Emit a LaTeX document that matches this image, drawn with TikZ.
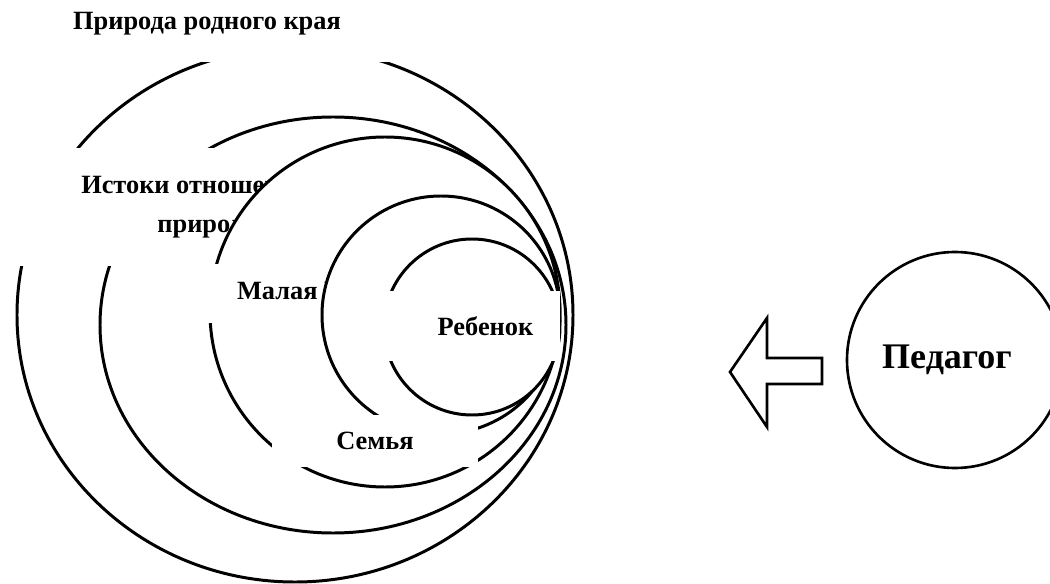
\documentclass[tikz,border=0pt]{standalone}
\usepackage{fontspec}
\setmainfont{Liberation Serif}
\usetikzlibrary{shapes.geometric}

\begin{document}
\begin{tikzpicture}[x=0.2mm, y=-0.2mm, font=\bfseries\fontsize{15}{22}\selectfont]
    \tikzstyle{ring} = [draw, line width=1.7pt, fill=white, inner sep=0pt]
    \tikzstyle{lbl} = [fill=white, inner sep=0pt, align=center]
    \useasboundingbox (0,0) rectangle (1050,584);

% circles from the outside in, each label box covers its own circle
\node[ring, ellipse, minimum width=111.2mm, minimum height=106.8mm] (priroda) at (295,315) {};
\node[lbl, minimum width=73mm, minimum height=15.2mm] (prirodaLbl) at (207,24) {Природа родного края};

\node[ring, ellipse, minimum width=93.2mm, minimum height=83.2mm] (istoki) at (333,325) {};
\node[lbl, minimum width=78.4mm, minimum height=23.6mm] (istokiLbl) at (206,207) {Истоки отношения к\\природе};

\node[ring, circle, minimum size=70mm] (rodina) at (385,312) {};
\node[lbl, minimum width=51.2mm, minimum height=11.8mm] (rodinaLbl) at (323,293.5) {Малая Родина};

\node[ring, circle, minimum size=47.6mm] (semya) at (441,315) {};
\node[lbl, minimum width=41.2mm, minimum height=10.4mm] (semyaLbl) at (375,441) {Семья};

\node[ring, circle, minimum size=35.2mm] (rebenok) at (472,327) {};
\node[lbl, minimum width=35.8mm, minimum height=14mm] (rebenokLbl) at (470.5,326) {\hspace*{6mm}Ребенок};

% block arrow and the teacher
\draw[line width=1.5pt, line join=miter] (822,358) -- (767,358) -- (767,318) -- (730,372) -- (767,427) -- (767,384) -- (822,384) -- cycle;
\node[circle, draw, line width=1.5pt, minimum size=43.2mm, font=\bfseries\fontsize{20.5}{24}\selectfont] (pedagog) at (955,360) {\hspace*{-3.2mm}Педагог};
\end{tikzpicture}
\end{document}
